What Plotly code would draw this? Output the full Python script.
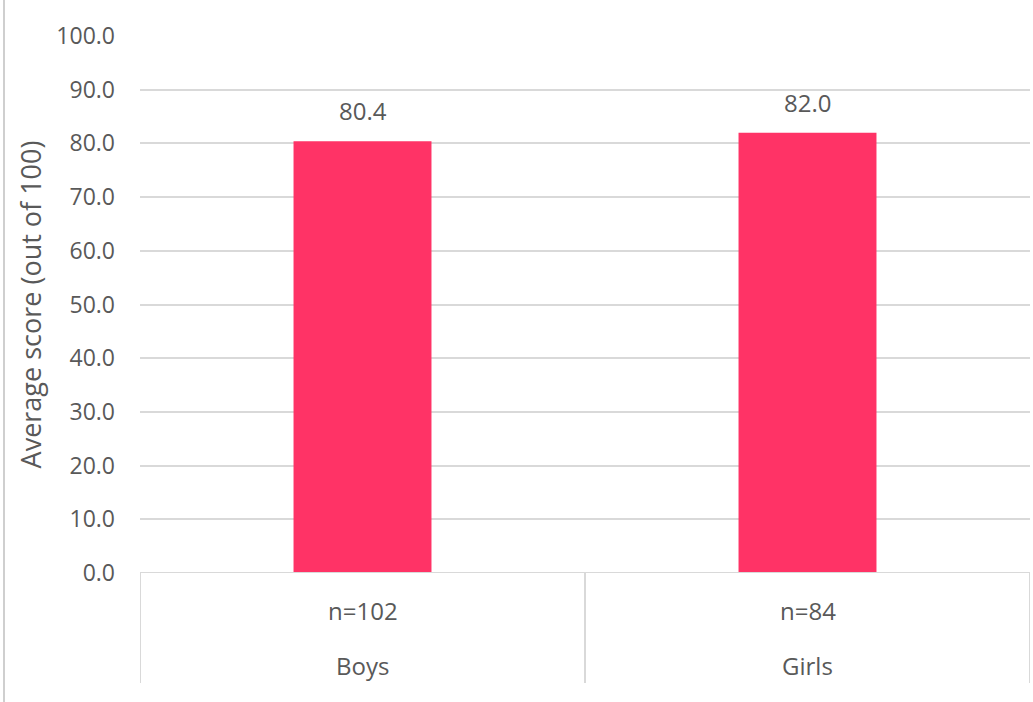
import plotly.graph_objects as go

categories = ["Boys", "Girls"]
sample_sizes = ["n=102", "n=84"]
scores = [80.4, 82.0]
y_ticks = [0, 10, 20, 30, 40, 50, 60, 70, 80, 90, 100]

W, H = 1033, 702
L, R, T, B = 140, 3, 36, 129
plot_h = H - T - B
plot_w = W - L - R
FONT = "Open Sans"
TXT = "#595959"
GRID = "#d9d9d9"

xs = list(range(len(categories)))

fig = go.Figure()
fig.add_trace(go.Bar(
    x=xs, y=scores, width=0.31,
    marker=dict(color="#FF3366", line=dict(width=0)),
    cliponaxis=False,
))

fig.update_layout(
    width=W, height=H,
    margin=dict(l=L, r=R, t=T, b=B, autoexpand=False),
    plot_bgcolor="white", paper_bgcolor="white",
    showlegend=False,
    xaxis=dict(range=[-0.5, len(categories) - 0.5], showticklabels=False,
               showgrid=False, zeroline=False, showline=False, fixedrange=True),
    yaxis=dict(range=[0, 100], tickvals=y_ticks,
               ticktext=[f"{v:.1f}" for v in y_ticks],
               showgrid=True, gridcolor=GRID, gridwidth=2,
               zeroline=False, showline=False, ticks="",
               ticklabelstandoff=24,
               tickfont=dict(family=FONT, size=23, color=TXT),
               title=dict(text="Average score (out of 100)",
                          font=dict(family=FONT, size=27, color=TXT),
                          standoff=6)),
)

shapes = []
# baseline
shapes.append(dict(type="line", xref="paper", yref="y", x0=0, x1=1, y0=0, y1=0,
                   line=dict(color=GRID, width=2)))
# category separators
bottom = -(683 - (H - B)) / plot_h
for b in [-0.5 + i for i in range(len(categories) + 1)]:
    shapes.append(dict(type="line", xref="x", yref="paper", x0=b, x1=b,
                       y0=0, y1=bottom, line=dict(color=GRID, width=2)))
# outer left border
lx = (4 - L) / plot_w
shapes.append(dict(type="line", xref="paper", yref="paper", x0=lx, x1=lx,
                   y0=(H - B) / plot_h, y1=-B / plot_h,
                   line=dict(color="#bfbfbf", width=1.5)))
fig.update_layout(shapes=shapes)

ann = []
for i, (c, n, v) in enumerate(zip(categories, sample_sizes, scores)):
    ann.append(dict(x=i, y=v, xref="x", yref="y", yanchor="bottom", yshift=12,
                    text=f"{v:.1f}", showarrow=False,
                    font=dict(family=FONT, size=24, color=TXT)))
    ann.append(dict(x=i, y=-(610 - (H - B)) / plot_h, xref="x", yref="paper",
                    yanchor="middle", text=n, showarrow=False,
                    font=dict(family=FONT, size=24, color=TXT)))
    ann.append(dict(x=i, y=-(665 - (H - B)) / plot_h, xref="x", yref="paper",
                    yanchor="middle", text=c, showarrow=False,
                    font=dict(family=FONT, size=24, color=TXT)))
fig.update_layout(annotations=ann)

fig.write_html("out.html", config={"displayModeBar": False},
               post_script="document.body.style.margin='0px';document.body.style.overflow='hidden';")
